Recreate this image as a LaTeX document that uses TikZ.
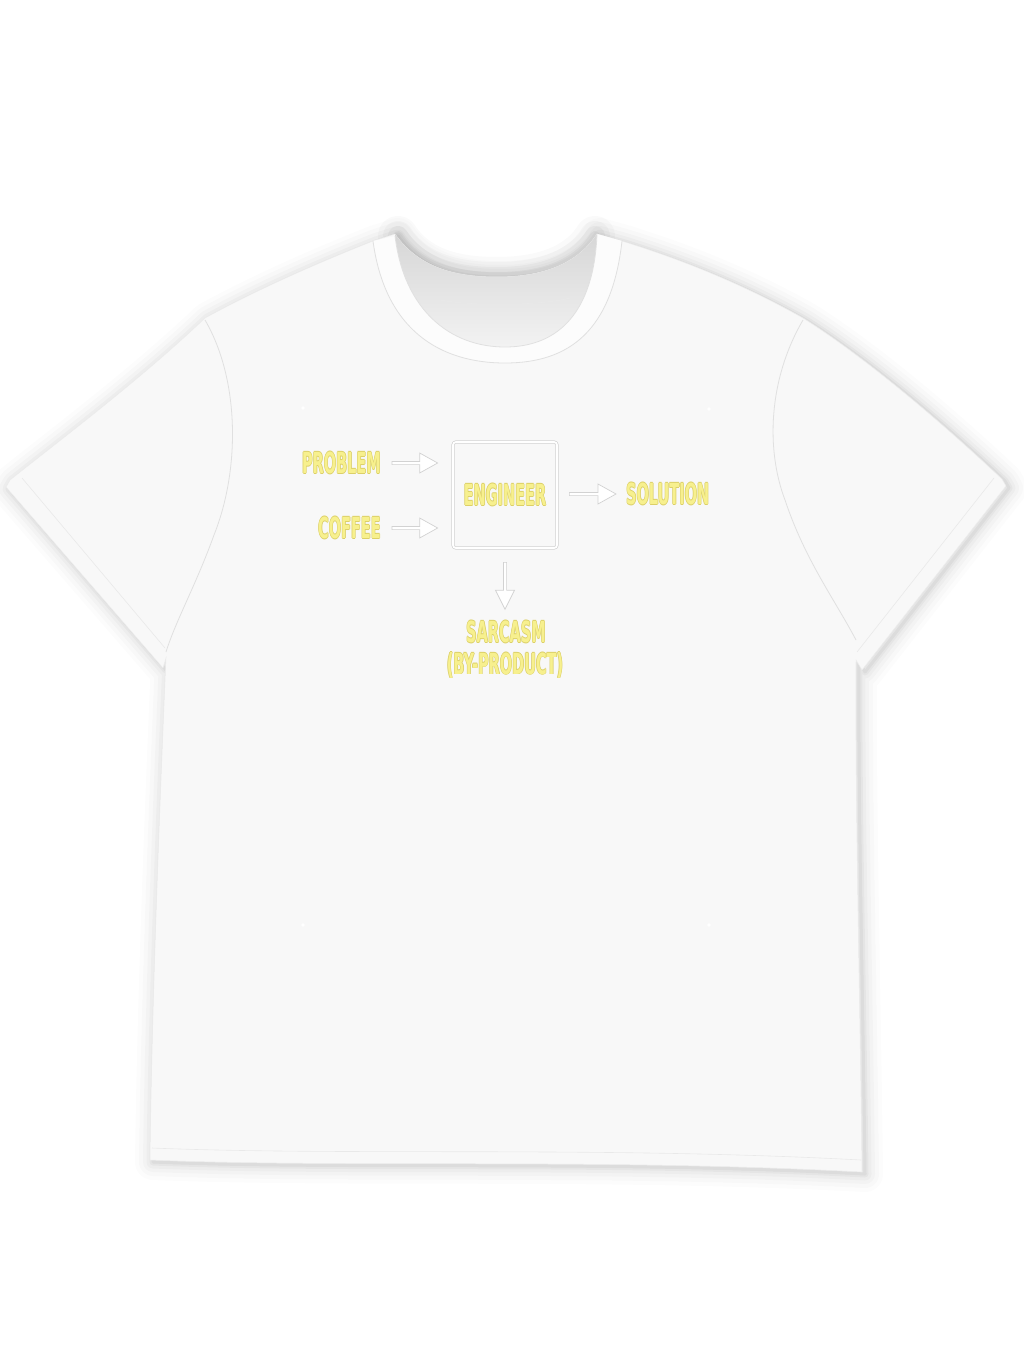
\documentclass[tikz,border=0pt]{standalone}
\usepackage{fontspec}
\usetikzlibrary{calc}
\newfontfamily\tfont{DejaVu Sans}[FakeStretch=0.5]
\definecolor{yfill}{HTML}{F7F08E}
\definecolor{yedge}{HTML}{DCD068}
\definecolor{shirt}{HTML}{F8F8F8}
\definecolor{seam}{HTML}{E0E0E0}
\definecolor{aedge}{HTML}{D2D2D2}
\newcommand\ytext[1]{\leavevmode
 \rlap{\kern0.6pt\textcolor{yedge}{#1}}%
 \rlap{\kern-0.6pt\textcolor{yedge}{#1}}%
 \rlap{\raisebox{0.6pt}{\textcolor{yedge}{#1}}}%
 \rlap{\raisebox{-0.6pt}{\textcolor{yedge}{#1}}}%
 \textcolor{yfill}{#1}}
% horizontal hollow arrow: #1 start, #2 tip (same y as start)
\newcommand\harrow[2]{%
 \filldraw[arrowsty] let \p1=(#1), \p2=(#2) in
  (\x1,\y1+1.6pt) -- (\x2-18pt,\y1+1.6pt) -- (\x2-18pt,\y1+10pt) -- (\x2,\y1)
  -- (\x2-18pt,\y1-10pt) -- (\x2-18pt,\y1-1.6pt) -- (\x1,\y1-1.6pt) -- cycle;}
% vertical (downward) hollow arrow
\newcommand\varrow[2]{%
 \filldraw[arrowsty] let \p1=(#1), \p2=(#2) in
  (\x1+1.6pt,\y1) -- (\x1+1.6pt,\y2+19pt) -- (\x1+9.5pt,\y2+19pt) -- (\x1,\y2)
  -- (\x1-9.5pt,\y2+19pt) -- (\x1-1.6pt,\y2+19pt) -- (\x1-1.6pt,\y1) -- cycle;}
\begin{document}
\begin{tikzpicture}[x=1pt,y=-1pt,
  lbl/.style={font={\tfont\bfseries\fontsize{29}{33}\selectfont}, inner sep=0pt},
  enginebox/.style={lbl, draw=aedge, double=white, double distance=1.8pt, line width=0.7pt,
     rounded corners=3pt, minimum width=104pt, minimum height=106pt},
  arrowsty/.style={fill=white, draw=aedge, line width=0.7pt, line join=miter},
  seamline/.style={draw=seam, line width=0.8pt},
  faint/.style={draw=seam!70, line width=0.6pt}]
\useasboundingbox (0,0) rectangle (1024,1364);
\fill[white] (0,0) rectangle (1024,1364);

\def\shirtpath{(373,241) -- (395,234)
  .. controls (420,270) and (460,277) .. (497,277)
  .. controls (535,277) and (575,268) .. (597,234) -- (622,241)
  .. controls (690,262) and (750,288) .. (803,318)
  .. controls (870,360) and (950,430) .. (1002,479) -- (1006,486)
  -- (862,670) -- (856,660)
  .. controls (855,800) and (860,1000) .. (862,1172)
  .. controls (600,1158) and (350,1168) .. (150,1160)
  .. controls (152,1000) and (160,800) .. (166,658) -- (163,668)
  -- (6,487) -- (10,480)
  .. controls (60,440) and (140,380) .. (205,318)
  .. controls (260,288) and (320,262) .. (373,241) -- cycle}

% soft shadow
\foreach \w/\o in {36/0.012,28/0.015,20/0.02,13/0.025,7/0.03,3/0.04}
  \draw[line width=\w pt, black, opacity=\o, line join=round, shift={(3,2)}] \shirtpath;
% stronger shadow behind the neck
\foreach \r/\o in {40/0.02,30/0.025,20/0.03,10/0.04}
  \draw[line width=\r pt, black, opacity=\o, line cap=round]
    (398,236) .. controls (420,270) and (460,277) .. (497,277)
    .. controls (535,277) and (575,268) .. (595,236);
\fill[shirt] \shirtpath;
\draw[draw=black!8, line width=0.5pt] \shirtpath;

% inside back of the neck
\shade[top color=black!16, bottom color=black!5]
  (395,234) .. controls (420,270) and (460,277) .. (497,277)
  .. controls (535,277) and (575,268) .. (597,234)
  .. controls (594,310) and (560,347) .. (505,347)
  .. controls (450,347) and (404,310) .. (395,236) -- cycle;
\draw[faint] (440,300) .. controls (470,306) and (540,306) .. (570,298);
% front collar band
\fill[white!60!shirt] (373,241) .. controls (385,330) and (440,363) .. (505,363)
  .. controls (570,363) and (612,330) .. (622,241) -- (597,234)
  .. controls (594,310) and (560,347) .. (505,347)
  .. controls (450,347) and (404,310) .. (395,236) -- cycle;
\draw[seamline] (373,241) .. controls (385,330) and (440,363) .. (505,363)
  .. controls (570,363) and (612,330) .. (622,241);
\draw[seamline] (395,236) .. controls (404,310) and (450,347) .. (505,347)
  .. controls (560,347) and (594,310) .. (597,234);

% armhole seams
\draw[seamline] (205,320) .. controls (240,380) and (240,470) .. (214,535)
  .. controls (196,585) and (176,620) .. (166,652);
\draw[seamline] (803,320) .. controls (768,380) and (766,450) .. (785,500)
  .. controls (805,560) and (835,600) .. (856,640);
% sleeve hems
\draw[faint] (22,478) -- (165,648);
\draw[faint] (994,478) -- (857,652);
% bottom hem stitching
\draw[faint] (152,1148) .. controls (350,1156) and (600,1146) .. (861,1160);

% print area markers
\foreach \px/\py in {303/408,709/409,303/925,709/925}
  \fill[white] (\px,\py) circle (1.8pt);

% diagram
\node[enginebox] (eng) at (505,495) {\ytext{ENGINEER}};
\node[lbl, anchor=east] (prob) at (381,463) {\ytext{PROBLEM}};
\node[lbl, anchor=east] (cof) at (381,528) {\ytext{COFFEE}};
\node[lbl, anchor=west] (sol) at (626,494) {\ytext{SOLUTION}};
\node[lbl] (sar) at (506,632) {\ytext{SARCASM}};
\node[lbl] (byp) at (505,665) {\ytext{(BY-PRODUCT)}};

\coordinate (pa) at ([xshift=11pt]prob.east);
\coordinate (pb) at ([xshift=-15pt]prob.east -| eng.west);
\coordinate (ca) at ([xshift=11pt]cof.east);
\coordinate (cb) at ([xshift=-15pt]cof.east -| eng.west);
\coordinate (sa) at ([xshift=12pt]eng.east |- sol.west);
\coordinate (sb) at ([xshift=-10pt]sol.west);
\coordinate (da) at ([yshift=-14pt]eng.south);
\coordinate (db) at ([yshift=11pt]eng.south |- sar.north);
\harrow{pa}{pb}
\harrow{ca}{cb}
\harrow{sa}{sb}
\varrow{da}{db}
\end{tikzpicture}
\end{document}
